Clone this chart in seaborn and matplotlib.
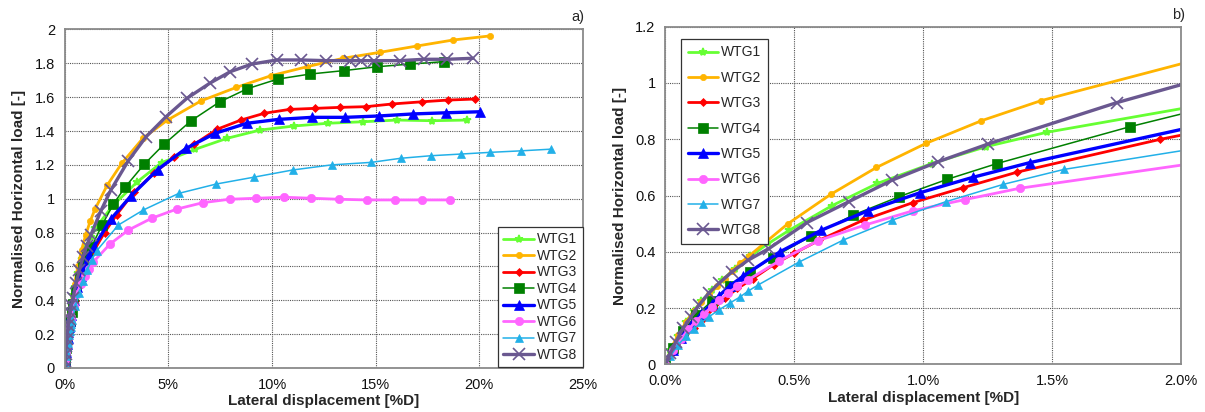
import matplotlib
matplotlib.use("Agg")
import matplotlib.pyplot as plt
from matplotlib.ticker import FuncFormatter, MultipleLocator
import seaborn as sns

# Lateral displacement in %D and normalised horizontal load for each turbine
wtg1_x = [0, 0.02, 0.05, 0.08, 0.11, 0.14, 0.18, 0.22, 0.27, 0.33, 0.40, 0.481, 0.646, 0.822, 1.034, 1.245, 1.48,
          2.3, 3.5, 4.67, 6.29, 7.83, 9.43, 11.08, 12.69, 14.4, 16.04, 17.73, 19.42]
wtg1_y = [0, 0.05, 0.10, 0.15, 0.19, 0.225, 0.265, 0.30, 0.34, 0.385, 0.43, 0.477, 0.564, 0.643, 0.714, 0.774, 0.825,
          0.957, 1.10, 1.213, 1.292, 1.357, 1.406, 1.43, 1.446, 1.455, 1.465, 1.461, 1.465]

wtg2_x = [0, 0.025, 0.05, 0.08, 0.11, 0.14, 0.17, 0.20, 0.23, 0.26, 0.29, 0.324, 0.474, 0.641, 0.819, 1.012, 1.226,
          1.456, 2.05, 2.75, 3.77, 4.96, 6.57, 8.28, 9.95, 11.69, 13.43, 15.2, 16.97, 18.74, 20.51]
wtg2_y = [0, 0.063, 0.105, 0.15, 0.19, 0.222, 0.25, 0.278, 0.305, 0.333, 0.36, 0.385, 0.499, 0.604, 0.70, 0.786, 0.866,
          0.937, 1.08, 1.209, 1.357, 1.465, 1.578, 1.658, 1.727, 1.78, 1.83, 1.865, 1.902, 1.938, 1.962]

wtg3_x = [0, 0.03, 0.07, 0.11, 0.15, 0.19, 0.23, 0.28, 0.34, 0.42, 0.50, 0.598, 0.768, 0.96, 1.155, 1.363, 1.92,
          2.5, 3.35, 4.3, 5.25, 6.26, 7.34, 8.5, 9.63, 10.85, 12.06, 13.3, 14.54, 15.8, 17.25, 18.48, 19.77]
wtg3_y = [0, 0.045, 0.09, 0.13, 0.165, 0.20, 0.235, 0.27, 0.305, 0.355, 0.395, 0.442, 0.513, 0.575, 0.628, 0.683, 0.80,
          0.905, 1.04, 1.15, 1.245, 1.323, 1.41, 1.465, 1.505, 1.528, 1.534, 1.54, 1.544, 1.56, 1.573, 1.583, 1.589]

wtg4_x = [0, 0.03, 0.07, 0.12, 0.18, 0.25, 0.33, 0.417, 0.567, 0.729, 0.906, 1.094, 1.287, 1.803, 2.35, 2.93,
          3.83, 4.80, 6.10, 7.47, 8.81, 10.27, 11.85, 13.46, 15.07, 16.68, 18.28]
wtg4_y = [0, 0.06, 0.12, 0.175, 0.225, 0.28, 0.33, 0.38, 0.457, 0.531, 0.596, 0.658, 0.714, 0.845, 0.969, 1.071,
          1.203, 1.323, 1.461, 1.572, 1.65, 1.707, 1.737, 1.757, 1.78, 1.796, 1.81]

wtg5_x = [0, 0.03, 0.06, 0.10, 0.14, 0.18, 0.21, 0.25, 0.302, 0.444, 0.605, 0.785, 0.987, 1.193, 1.413, 2.22,
          3.19, 4.48, 5.86, 7.26, 8.79, 10.32, 11.93, 13.54, 15.15, 16.79, 18.4, 20.03]
wtg5_y = [0, 0.05, 0.095, 0.14, 0.18, 0.215, 0.245, 0.279, 0.314, 0.40, 0.477, 0.546, 0.61, 0.665, 0.717, 0.879,
          1.016, 1.172, 1.298, 1.387, 1.446, 1.469, 1.481, 1.481, 1.489, 1.501, 1.508, 1.514]

wtg6_x = [0, 0.03, 0.06, 0.09, 0.12, 0.15, 0.18, 0.21, 0.245, 0.28, 0.32, 0.44, 0.593, 0.773, 0.96, 1.163, 1.374,
          2.19, 3.07, 4.2, 5.41, 6.67, 7.95, 9.24, 10.56, 11.88, 13.22, 14.56, 15.91, 17.25, 18.58]
wtg6_y = [0, 0.05, 0.09, 0.125, 0.155, 0.18, 0.205, 0.23, 0.255, 0.278, 0.30, 0.367, 0.44, 0.495, 0.546, 0.586, 0.626,
          0.733, 0.815, 0.885, 0.939, 0.977, 0.997, 1.003, 1.009, 1.003, 0.997, 0.993, 0.993, 0.993, 0.993]

wtg7_x = [0, 0.02, 0.05, 0.08, 0.11, 0.14, 0.17, 0.21, 0.25, 0.29, 0.32, 0.359, 0.519, 0.69, 0.88, 1.087, 1.311,
          1.546, 2.59, 3.8, 5.51, 7.31, 9.15, 11.0, 12.87, 14.79, 16.2, 17.65, 19.1, 20.5, 22.0, 23.46]
wtg7_y = [0, 0.03, 0.07, 0.10, 0.125, 0.15, 0.17, 0.195, 0.218, 0.24, 0.26, 0.282, 0.364, 0.442, 0.513, 0.578, 0.64,
          0.693, 0.845, 0.934, 1.032, 1.087, 1.128, 1.17, 1.2, 1.215, 1.239, 1.254, 1.264, 1.274, 1.283, 1.293]

wtg8_x = [0, 0.02, 0.04, 0.07, 0.10, 0.13, 0.17, 0.21, 0.26, 0.32, 0.402, 0.549, 0.713, 0.88, 1.057, 1.251, 1.75,
          2.22, 3.07, 3.93, 4.89, 5.89, 6.99, 7.99, 9.03, 10.24, 11.4, 12.6, 13.78, 14.3, 14.94, 16.16, 17.32,
          18.45, 19.69]
wtg8_y = [0, 0.04, 0.08, 0.13, 0.17, 0.21, 0.255, 0.29, 0.33, 0.37, 0.412, 0.504, 0.579, 0.655, 0.72, 0.783, 0.93,
          1.05, 1.225, 1.367, 1.485, 1.593, 1.682, 1.751, 1.796, 1.82, 1.82, 1.816, 1.816, 1.816, 1.816, 1.816, 1.824,
          1.824, 1.83]

names = ["WTG1", "WTG2", "WTG3", "WTG4", "WTG5", "WTG6", "WTG7", "WTG8"]
xs = [wtg1_x, wtg2_x, wtg3_x, wtg4_x, wtg5_x, wtg6_x, wtg7_x, wtg8_x]
ys = [wtg1_y, wtg2_y, wtg3_y, wtg4_y, wtg5_y, wtg6_y, wtg7_y, wtg8_y]

colors = ["#66ff33", "#ffb400", "#ff0000", "#008000", "#0000ff", "#ff66ff", "#22b0e8", "#6a5890"]
markers = ["*", "o", "D", "s", "^", "o", "^", "x"]
msizes = [6, 4.5, 4, 6.5, 6.5, 6, 5.5, 8]
lwidths = [2.0, 2.0, 2.0, 1.1, 2.4, 2.0, 1.1, 2.4]

sns.set_theme(style="white")
plt.rcParams["font.family"] = ["Liberation Sans", "DejaVu Sans"]

fig = plt.figure(figsize=(12.05, 4.12), dpi=100)
ax_a = fig.add_axes([0.0537, 0.1068, 0.4301, 0.8216])
ax_b = fig.add_axes([0.5521, 0.1153, 0.428, 0.8199])


def draw_series(ax):
    for name, x, y, c, m, ms, lw in zip(names, xs, ys, colors, markers, msizes, lwidths):
        sns.lineplot(x=x, y=y, ax=ax, color=c, marker=m, markersize=ms, linewidth=lw,
                     markeredgecolor=c, markeredgewidth=1.2 if m in ("x", "*") else 0.5,
                     sort=False, estimator=None, label=name)


def style_axes(ax):
    ax.grid(True, which="major", color="#555555", linestyle=(0, (1, 1)), linewidth=0.8)
    for s in ax.spines.values():
        s.set_color("#8a8a8a")
        s.set_linewidth(1.3)
    ax.tick_params(axis="both", which="major", direction="out", length=4, width=1,
                   color="#8a8a8a", labelsize=10.5, labelcolor="#111111", pad=3)
    ax.set_xlabel("Lateral displacement [%D]", fontsize=11, fontweight="bold", labelpad=2)
    ax.set_ylabel("Normalised Horizontal load [-]", fontsize=11, fontweight="bold", labelpad=6)


def gen_fmt(v, pos):
    s = f"{v:.1f}"
    return s[:-2] if s.endswith(".0") else s


# Panel a: full range
draw_series(ax_a)
ax_a.set_xlim(0, 25)
ax_a.set_ylim(0, 2)
ax_a.xaxis.set_major_locator(MultipleLocator(5))
ax_a.yaxis.set_major_locator(MultipleLocator(0.2))
ax_a.xaxis.set_major_formatter(FuncFormatter(lambda v, p: f"{v:.0f}%"))
ax_a.yaxis.set_major_formatter(FuncFormatter(gen_fmt))
style_axes(ax_a)
leg_a = ax_a.legend(loc="lower right", bbox_to_anchor=(0.9995, 0.0015), fontsize=10,
                    frameon=True, fancybox=False, edgecolor="#333333", framealpha=1,
                    labelspacing=0.18, handlelength=2.2, handletextpad=0.2, borderpad=0.4,
                    borderaxespad=0.0)
leg_a.get_frame().set_linewidth(0.9)

# Panel b: close-up of the initial response
draw_series(ax_b)
ax_b.set_xlim(0, 2)
ax_b.set_ylim(0, 1.2)
ax_b.xaxis.set_major_locator(MultipleLocator(0.5))
ax_b.yaxis.set_major_locator(MultipleLocator(0.2))
ax_b.xaxis.set_major_formatter(FuncFormatter(lambda v, p: f"{v:.1f}%"))
ax_b.yaxis.set_major_formatter(FuncFormatter(gen_fmt))
style_axes(ax_b)
leg_b = ax_b.legend(loc="upper left", bbox_to_anchor=(0.03, 0.965), fontsize=10,
                    frameon=True, fancybox=False, edgecolor="#333333", framealpha=1,
                    labelspacing=0.82, handlelength=2.2, handletextpad=0.2, borderpad=0.5,
                    borderaxespad=0.0)
leg_b.get_frame().set_linewidth(0.9)

fig.text(0.4797, 0.959, "a)", fontsize=10.5, ha="center", va="center")
fig.text(0.978, 0.9636, "b)", fontsize=10.5, ha="center", va="center")

fig.savefig("out.png", dpi=100, facecolor="white")
